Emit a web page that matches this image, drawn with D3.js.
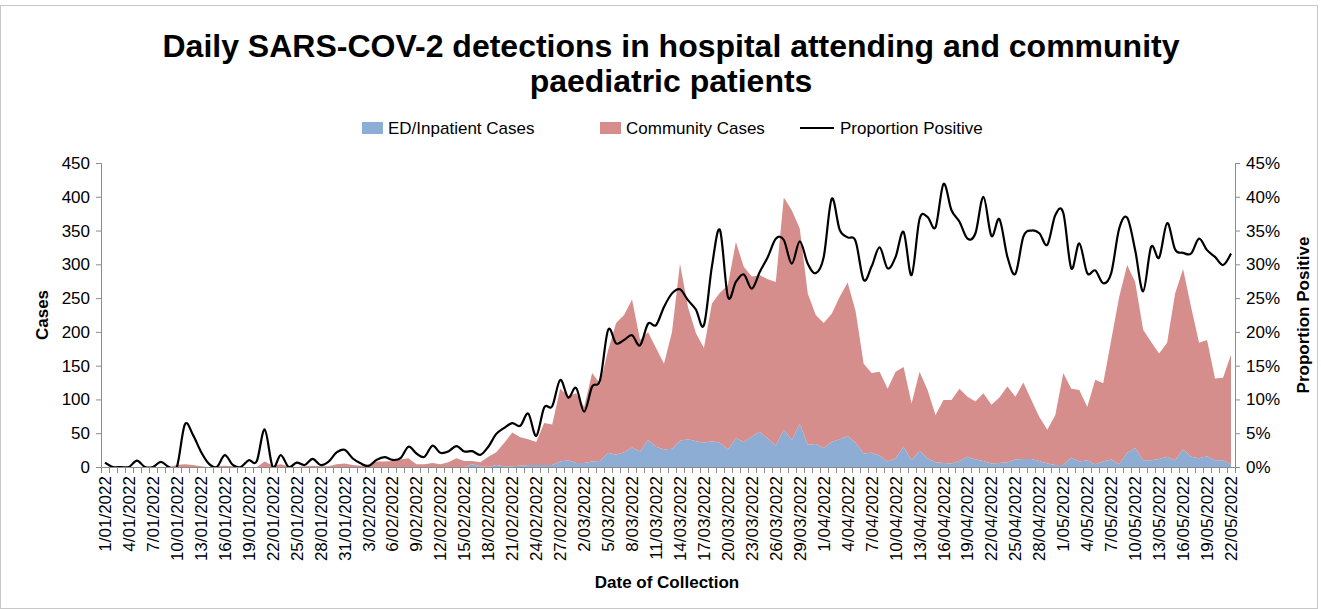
<!DOCTYPE html>
<html><head><meta charset="utf-8">
<script src="https://cdn.jsdelivr.net/npm/d3@7"></script>
<style>body{margin:0;background:#fff}svg{display:block}text{font-family:"Liberation Sans",Arial,sans-serif}</style>
</head><body><svg id="c" width="1321" height="609"></svg>
<script>
const startDate = "2022-01-01", endDate = "2022-05-22";
const seriesNames = ["ED/Inpatient Cases","Community Cases","Proportion Positive"];
const edCases = [0,0,0,0,0,0,0,0,0,0, 0,0,0,0,0,0,0,0,0,0, 0,0,0,0,0,0,0,0,0,0,
 0,0,0,0,0,0,0,0,0,0, 0,0,0,0,0,0,4,1,0,3, 1,1,2,3,3,3,3,8,10,6,
 6,8,9,21,18,22,29,23,40,30, 26,27,39,41,38,36,38,36,26,43, 37,45,52,42,32,55,40,64,33,34,
 28,37,41,46,36,20,21,17,8,13, 30,10,24,13,7,6,5,9,15,11, 9,5,6,7,11,12,12,9,5,3,
 3,14,8,10,4,8,11,4,21,28, 10,10,12,15,10,26,15,13,16,10, 10,4];
const communityCases = [0,0,0,0,0,0,0,0,0,3, 4,3,1,0,1,2,1,0,0,0, 8,2,4,1,0,1,2,1,1,4,
 5,3,2,4,8,8,9,11,13,4, 4,6,4,7,13,9,5,6,15,19, 35,50,42,38,34,62,60,108,95,103,
 83,131,114,152,195,203,219,165,160,146, 127,173,262,196,160,140,204,222,243,290, 259,237,232,236,242,344,340,289,224,191,
 185,190,211,227,194,133,118,124,108,128, 118,84,117,101,70,93,94,107,89,86, 100,87,97,112,93,113,87,65,50,74,
 136,102,106,79,125,116,177,248,278,246, 193,175,156,169,247,267,222,171,172,121, 122,162];
const proportionPositive = [0.65,0,0,0,0.95,0,0,0.75,0,0, 6.3,4.8,2.3,0.5,0,1.75,0.3,0,1.0,0.85,
 5.55,0,1.75,0,0.65,0.3,1.2,0.3,0.8,2.15, 2.55,1.3,0.55,0.15,1.05,1.45,1.05,1.3,3.0,2.0,
 1.5,3.15,2.1,2.3,3.1,2.3,2.35,1.8,3.0,4.9, 5.8,6.5,6.1,7.9,4.6,8.8,9.0,12.9,10.3,11.7,
 8.2,11.9,12.9,20.3,18.3,18.8,19.5,18.0,21.2,21.0, 23.7,25.7,26.3,24.7,23.3,21.0,29.7,35.1,25.2,27.4,
 28.5,26.4,28.9,31.1,33.8,33.6,30.1,33.4,30.1,28.7, 31.1,39.7,35.1,34.0,33.4,27.7,29.7,32.5,29.4,31.1,
 34.8,28.4,36.7,37.0,35.5,41.9,38.0,36.3,33.8,34.6, 40.0,34.2,36.7,31.1,28.6,34.1,35.0,34.6,32.9,37.3,
 37.6,29.4,33.1,28.7,29.1,27.2,28.7,35.3,36.9,32.1, 26.0,32.6,31.0,36.1,32.2,31.7,31.6,33.8,32.1,31.1,
 29.9,31.6];
const leftTicks = [0,50,100,150,200,250,300,350,400,450];
const rightTicks = [0,5,10,15,20,25,30,35,40,45];
const titleLines = ["Daily SARS-COV-2 detections in hospital attending and community","paediatric patients"];

const parse = d3.timeParse("%Y-%m-%d");
const fmt = d3.timeFormat("%-d/%m/%Y");
const dates = d3.timeDay.range(parse(startDate), d3.timeDay.offset(parse(endDate),1));
const categories = dates.map(fmt);
const rows = categories.map((c,i)=>({cat:c, ed:edCases[i], comm:communityCases[i], p:proportionPositive[i]}));

const svg = d3.select("#c");
const L=101, R=1235, T=163, B=467;
const x = d3.scaleBand().domain(categories).range([L,R]).padding(0);
const cx = c => x(c)+x.bandwidth()/2;
const y = d3.scaleLinear().domain([0,450]).range([B,T]);
const y2 = d3.scaleLinear().domain([0,45]).range([B,T]);

svg.append("rect").attr("x",0.5).attr("y",5.5).attr("width",1317).attr("height",603).attr("fill","#fff").attr("stroke","#c8c8c8");

const colors = {ed:"#8EADD4", comm:"#D68E8C"};
const stack = d3.stack().keys(["ed","comm"])(rows);
const area = d3.area().x(d=>cx(d.data.cat)).y0(d=>y(d[0])).y1(d=>y(d[1]));
svg.append("g").selectAll("path").data(stack).join("path")
  .attr("d",area).attr("fill",d=>colors[d.key]);

svg.append("clipPath").attr("id","clip").append("rect").attr("x",L).attr("y",T-10).attr("width",R-L).attr("height",B-T+10);
const line = d3.line().x(d=>cx(d.cat)).y(d=>y2(d.p)).curve(d3.curveCardinal.tension(0));
svg.append("path").datum(rows).attr("d",line).attr("fill","none").attr("stroke","#000").attr("stroke-width",2.2).attr("clip-path","url(#clip)");

// axes
const axisColor="#8c8c8c";
const gl = svg.append("g").attr("transform",`translate(${L},0)`).call(d3.axisLeft(y).tickValues(leftTicks).tickSize(5).tickPadding(6));
const gr = svg.append("g").attr("transform",`translate(${R},0)`).call(d3.axisRight(y2).tickValues(rightTicks).tickFormat(d=>d+"%").tickSize(5).tickPadding(6));
[gl,gr].forEach(g=>{g.select(".domain").attr("stroke",axisColor);g.selectAll(".tick line").attr("stroke",axisColor);
  g.selectAll("text").attr("font-size",17).attr("fill","#000").attr("font-family","Liberation Sans, Arial, sans-serif");});

// x axis
const gx = svg.append("g");
gx.append("line").attr("x1",L).attr("x2",R).attr("y1",B+0.5).attr("y2",B+0.5).attr("stroke",axisColor);
gx.selectAll("line.t").data(categories.concat(["__end"])).join("line").attr("class","t")
  .attr("x1",(d,i)=> i<categories.length ? Math.round(x(d))+0.5 : R+0.5)
  .attr("x2",(d,i)=> i<categories.length ? Math.round(x(d))+0.5 : R+0.5)
  .attr("y1",B).attr("y2",B+6).attr("stroke",axisColor);
gx.selectAll("text").data(categories.filter((d,i)=>i%3===0)).join("text")
  .attr("transform",d=>`translate(${cx(d)+6},${B+9}) rotate(-90)`)
  .attr("text-anchor","end").attr("font-size",17).text(d=>d);

// titles
svg.append("g").selectAll("text").data(titleLines).join("text")
  .attr("x",671).attr("y",(d,i)=>57+i*35).attr("text-anchor","middle")
  .attr("font-size",32).attr("font-weight","bold").text(d=>d);
svg.append("text").attr("x",667).attr("y",588).attr("text-anchor","middle").attr("font-size",17).attr("font-weight","bold").text("Date of Collection");
svg.append("text").attr("transform","translate(48,315) rotate(-90)").attr("text-anchor","middle").attr("font-size",17).attr("font-weight","bold").text("Cases");
svg.append("text").attr("transform","translate(1309,315) rotate(-90)").attr("text-anchor","middle").attr("font-size",17).attr("font-weight","bold").text("Proportion Positive");

// legend
const lg = svg.append("g");
const legendItems = [{x:362,type:"rect",c:colors.ed,t:seriesNames[0]},{x:600,type:"rect",c:colors.comm,t:seriesNames[1]},{x:800,type:"line",c:"#000",t:seriesNames[2]}];
legendItems.forEach(it=>{
  if(it.type==="rect") lg.append("rect").attr("x",it.x).attr("y",122).attr("width",21).attr("height",12).attr("fill",it.c);
  else lg.append("line").attr("x1",it.x).attr("x2",it.x+34).attr("y1",128).attr("y2",128).attr("stroke",it.c).attr("stroke-width",2.2);
  lg.append("text").attr("x",it.type==="rect"?it.x+26:it.x+40).attr("y",134).attr("font-size",17).text(it.t);
});
</script></body></html>
